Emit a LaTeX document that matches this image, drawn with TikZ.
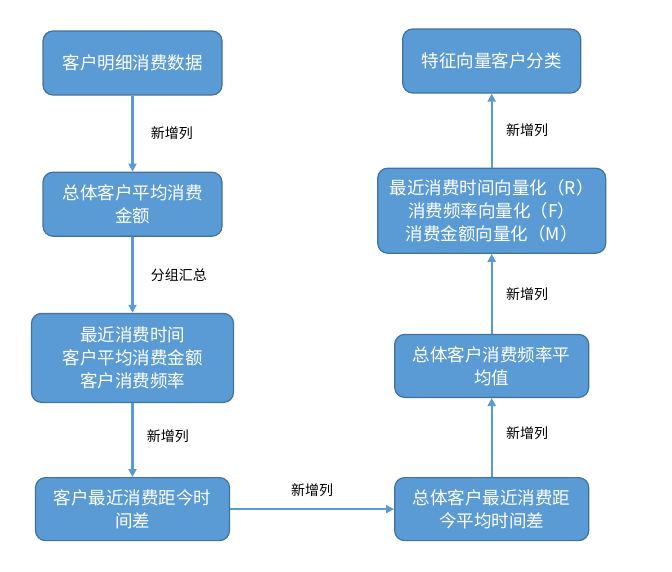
\documentclass[tikz,border=0pt]{standalone}
\usepackage{fontspec}
\setmainfont{Noto Sans CJK SC}
\usetikzlibrary{positioning,arrows.meta}
\definecolor{boxblue}{HTML}{5B9BD5}
\definecolor{edgeblue}{HTML}{41719C}

\begin{document}
\begin{tikzpicture}[x=1pt, y=-1pt,
  box/.style={rectangle, rounded corners=10pt, draw=edgeblue, fill=boxblue,
              line width=1.2pt, text=white, align=center, inner sep=2pt,
              font=\fontsize{17.5}{23}\selectfont},
  arr/.style={-{Triangle[length=8pt,width=8pt]}, draw=boxblue, line width=2.2pt},
  lbl/.style={font=\fontsize{14}{15}\selectfont, text=black},
]
  \useasboundingbox (0,0) rectangle (672,571);

  % left column
  \node[box, minimum width=179pt, minimum height=64pt] (detail) at (132.5,63) {客户明细消费数据};
  \node[box, minimum width=179pt, minimum height=64pt, below=76pt of detail] (avgamt) {总体客户平均消费\\金额};
  \node[box, minimum width=202pt, minimum height=89pt, below=76pt of avgamt] (group) {最近消费时间\\客户平均消费金额\\客户消费频率};
  \node[box, minimum width=194pt, minimum height=63pt, below=74pt of group] (gap) {客户最近消费距今时\\间差};

  % right column
  \node[box, minimum width=194pt, minimum height=63pt, right=164pt of gap] (avggap) {总体客户最近消费距\\今平均时间差};
  \node[box, minimum width=194pt, minimum height=63pt, above=79pt of avggap] (avgfreq) {总体客户消费频率平\\均值};
  \node[box, minimum width=228pt, minimum height=85pt, above=80pt of avgfreq] (rfm) {最近消费时间向量化（R）\\消费频率向量化（F）\\消费金额向量化（M）};
  \node[box, minimum width=178pt, minimum height=64pt, above=74pt of rfm] (cls) {特征向量客户分类};

  \draw[arr] (detail) -- node[lbl, midway, right=14pt] {新增列} (avgamt);
  \draw[arr] (avgamt) -- node[lbl, midway, right=14pt] {分组汇总} (group);
  \draw[arr] (group) -- node[lbl, pos=0.45, right=10pt] {新增列} (gap);
  \draw[arr] (gap) -- node[lbl, midway, above=8pt] {新增列} (avggap);
  \draw[arr] (avggap) -- node[lbl, pos=0.55, right=10pt] {新增列} (avgfreq);
  \draw[arr] (avgfreq) -- node[lbl, midway, right=10pt] {新增列} (rfm);
  \draw[arr] (rfm) -- node[lbl, midway, right=10pt] {新增列} (cls);
\end{tikzpicture}
\end{document}
